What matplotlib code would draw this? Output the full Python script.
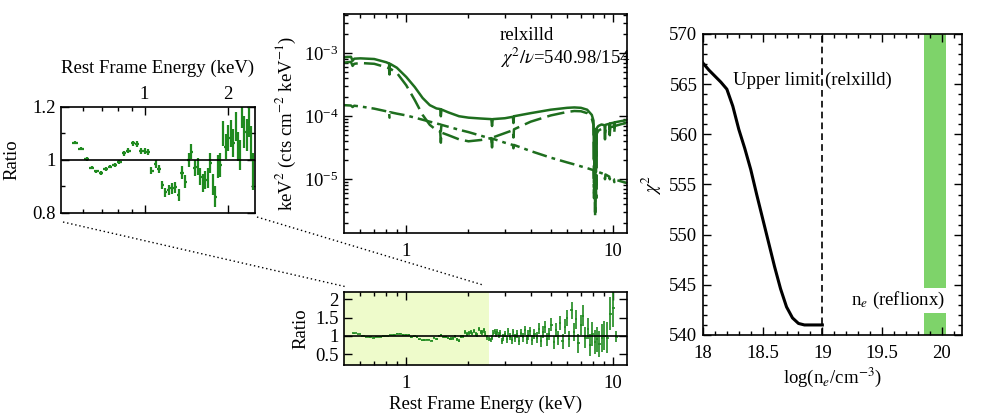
import numpy as np
import matplotlib
matplotlib.use("Agg")
import matplotlib.pyplot as plt
from matplotlib.lines import Line2D
from matplotlib.ticker import FixedLocator, NullFormatter, MultipleLocator

plt.rcParams['font.family'] = ['Liberation Serif', 'DejaVu Serif']
plt.rcParams['mathtext.fontset'] = 'stix'
plt.rcParams['font.size'] = 13.5
plt.rcParams['xtick.direction'] = 'in'
plt.rcParams['ytick.direction'] = 'in'
plt.rcParams['xtick.top'] = True
plt.rcParams['ytick.right'] = True
plt.rcParams['axes.linewidth'] = 1.2
plt.rcParams['xtick.major.pad'] = 7
plt.rcParams['ytick.major.pad'] = 4

DATA_C = '#1f8a1f'
MODEL_C = '#1e6e1e'

# ---- ratio data, 0.5-2.5 keV (inset + bottom panel)
e_lo = [0.561, 0.59, 0.62, 0.644, 0.671, 0.695, 0.725, 0.751, 0.78, 0.811,
        0.843, 0.874, 0.906, 0.936, 0.968, 1.0, 1.031, 1.059, 1.095, 1.129,
        1.157, 1.189, 1.222, 1.256, 1.291, 1.327, 1.365, 1.403, 1.442, 1.474,
        1.515, 1.553, 1.587, 1.622, 1.654, 1.69, 1.724, 1.762, 1.796, 1.837,
        1.873, 1.915, 1.962, 2.005, 2.05, 2.09, 2.13, 2.17, 2.2, 2.245,
        2.29, 2.335, 2.373, 2.41, 2.45]
r_lo = [1.065, 1.043, 1.004, 0.971, 0.957, 0.952, 0.965, 0.975, 0.981, 0.991,
        1.025, 1.035, 1.063, 1.06, 1.034, 1.034, 1.03, 0.96, 0.985, 0.967,
        0.906, 0.878, 0.887, 0.893, 0.897, 0.868, 0.952, 0.918, 1.0, 1.031,
        0.969, 0.975, 0.937, 0.912, 0.925, 0.931, 0.987, 0.906, 0.862, 0.975,
        0.981, 1.10, 1.05, 1.082, 1.10, 1.063, 1.126, 1.05, 1.019, 1.18,
        1.107, 1.094, 1.151, 1.063, 0.956]
err_lo = [0.006, 0.006, 0.006, 0.006, 0.007, 0.007, 0.007, 0.007, 0.008, 0.008,
          0.009, 0.009, 0.01, 0.01, 0.011, 0.011, 0.012, 0.013, 0.014, 0.015,
          0.016, 0.017, 0.018, 0.02, 0.021, 0.022, 0.024, 0.025, 0.027, 0.028,
          0.03, 0.031, 0.032, 0.034, 0.035, 0.037, 0.038, 0.04, 0.041, 0.043,
          0.044, 0.046, 0.047, 0.049, 0.05, 0.052, 0.054, 0.055, 0.057, 0.058,
          0.06, 0.062, 0.064, 0.066, 0.07]

# ---- ratio data, 2.5-10.5 keV
e_hi = [2.52, 2.56, 2.6, 2.64, 2.68, 2.72, 2.76, 2.8, 2.85, 2.9,
        2.95, 3.0, 3.06, 3.12, 3.18, 3.24, 3.3, 3.37, 3.44, 3.51,
        3.58, 3.66, 3.74, 3.82, 3.9, 3.99, 4.08, 4.17, 4.27, 4.37,
        4.47, 4.58, 4.69, 4.8, 4.92, 5.04, 5.16, 5.29, 5.42, 5.56,
        5.7, 5.85, 6.0, 6.15, 6.31, 6.47, 6.64, 6.81, 6.99, 7.17,
        7.36, 7.55, 7.75, 7.95, 8.16, 8.38, 8.6, 8.85, 9.1, 9.4,
        9.7, 10.0, 10.4]
r_hi = [0.92, 0.88, 0.95, 1.08, 1.12, 1.05, 1.1, 1.02, 1.08, 0.86,
        0.95, 1.05, 0.9, 1.12, 0.98, 0.88, 1.1, 0.93, 1.05, 0.85,
        1.08, 0.96, 1.15, 0.9, 1.02, 1.12, 0.88, 1.05, 0.95, 1.2,
        0.85, 1.1, 1.25, 0.9, 1.05, 1.3, 0.82, 1.15, 0.95, 1.35,
        0.85, 1.25, 1.5, 0.9, 1.7, 1.1, 1.45, 0.8, 1.3, 1.55,
        0.95, 1.2, 0.75, 1.05, 0.82, 0.9, 0.78, 0.95, 1.0, 0.95,
        1.6, 1.75, 0.98]
err_hi = [0.06, 0.06, 0.07, 0.07, 0.07, 0.07, 0.08, 0.08, 0.08, 0.08,
          0.09, 0.09, 0.09, 0.1, 0.1, 0.1, 0.1, 0.11, 0.11, 0.11,
          0.12, 0.12, 0.12, 0.13, 0.13, 0.13, 0.14, 0.14, 0.15, 0.15,
          0.15, 0.16, 0.16, 0.17, 0.17, 0.18, 0.18, 0.19, 0.19, 0.2,
          0.2, 0.21, 0.22, 0.22, 0.23, 0.24, 0.25, 0.26, 0.27, 0.28,
          0.29, 0.3, 0.31, 0.32, 0.33, 0.34, 0.36, 0.38, 0.4, 0.42,
          0.45, 0.5, 0.15]

# ---- unfolded model components (keV^2 cts cm^-2 keV^-1)
e_mod = [0.5, 0.54, 0.55, 0.56, 0.6, 0.7, 0.8, 0.825, 0.83, 0.835,
         0.9, 1.0, 1.1, 1.2, 1.3, 1.4, 1.46, 1.47, 1.48, 1.6,
         1.8, 2.0, 2.3, 2.58, 2.6, 2.62, 3.0, 3.28, 3.3, 3.32,
         4.0, 5.0, 6.0, 6.5, 7.0, 7.5, 7.9, 8.05, 8.1, 8.15,
         8.2, 8.25, 8.3, 8.35, 8.5, 8.8, 9.1, 9.15, 9.2, 9.6,
         9.65, 9.7, 10.1, 10.15, 10.2, 11.0, 12.0]
total = [8.6e-4, 8.8e-4, 7.6e-4, 8.2e-4, 8.3e-4, 8.1e-4, 7.2e-4, 6.9e-4, 5.6e-4, 6.8e-4,
         5.9e-4, 4.2e-4, 2.9e-4, 1.95e-4, 1.5e-4, 1.33e-4, 1.3e-4, 1.0e-4, 1.28e-4, 1.15e-4,
         1.0e-4, 9.5e-5, 9.2e-5, 9.0e-5, 7.0e-5, 9.0e-5, 9.3e-5, 9.8e-5, 7.8e-5, 1.0e-4,
         1.12e-4, 1.27e-4, 1.36e-4, 1.38e-4, 1.36e-4, 1.27e-4, 1.05e-4, 8.5e-5, 2.0e-5, 6.0e-5,
         1.7e-5, 6.2e-5, 2.3e-5, 6.5e-5, 7.0e-5, 7.4e-5, 7.2e-5, 5.5e-5, 7.3e-5, 7.6e-5,
         6.0e-5, 7.7e-5, 7.9e-5, 6.5e-5, 8.0e-5, 8.4e-5, 8.8e-5]
refl = [7.1e-4, 7.3e-4, 6.3e-4, 6.8e-4, 7.0e-4, 6.8e-4, 6.0e-4, 5.8e-4, 4.6e-4, 5.7e-4,
        4.9e-4, 3.1e-4, 1.8e-4, 1.05e-4, 7.3e-5, 6.0e-5, 5.7e-5, 3.8e-5, 5.5e-5, 5.0e-5,
        4.3e-5, 4.0e-5, 4.2e-5, 4.5e-5, 3.2e-5, 4.6e-5, 5.4e-5, 6.0e-5, 4.6e-5, 6.2e-5,
        8.2e-5, 1.03e-4, 1.17e-4, 1.21e-4, 1.2e-4, 1.12e-4, 9.2e-5, 7.3e-5, 6.0e-6, 4.5e-5,
        2.5e-6, 4.8e-5, 8.0e-6, 5.3e-5, 5.9e-5, 6.3e-5, 6.1e-5, 4.3e-5, 6.2e-5, 6.6e-5,
        5.0e-5, 6.7e-5, 6.9e-5, 5.5e-5, 7.0e-5, 7.5e-5, 8.0e-5]
powerlaw = [1.5e-4, 1.48e-4, 1.4e-4, 1.47e-4, 1.43e-4, 1.32e-4, 1.2e-4, 1.17e-4, 9.5e-5, 1.16e-4,
            1.1e-4, 1.03e-4, 9.5e-5, 8.8e-5, 8.2e-5, 7.7e-5, 7.4e-5, 5.8e-5, 7.3e-5, 6.8e-5,
            6.1e-5, 5.6e-5, 4.9e-5, 4.4e-5, 3.8e-5, 4.4e-5, 3.8e-5, 3.5e-5, 3.1e-5, 3.5e-5,
            2.8e-5, 2.2e-5, 1.85e-5, 1.72e-5, 1.6e-5, 1.5e-5, 1.42e-5, 1.4e-5, 5.0e-6, 1.2e-5,
            3.0e-6, 1.2e-5, 4.5e-6, 1.3e-5, 1.3e-5, 1.25e-5, 1.2e-5, 1.0e-5, 1.19e-5, 1.1e-5,
            1.0e-5, 1.09e-5, 1.0e-5, 9.0e-6, 9.9e-6, 9.2e-6, 8.5e-6]

# ---- chi^2 vs density scan
log_ne = [18.0, 18.05, 18.1, 18.15, 18.2, 18.25, 18.3, 18.35, 18.4, 18.45,
          18.5, 18.55, 18.6, 18.65, 18.7, 18.75, 18.8, 18.85, 18.9, 18.95, 19.0]
chi2 = [567.1, 566.4, 565.8, 565.2, 564.5, 562.8, 560.5, 558.6, 556.5, 554.0,
        551.6, 549.2, 546.8, 544.6, 542.8, 541.7, 541.15, 541.0, 541.0, 541.0, 541.0]
ne_reflionx = (19.85, 20.04)
upper_limit = 19.0


def bin_halfwidths(e):
    e = np.asarray(e)
    edges = np.sqrt(e[1:] * e[:-1])
    lo = np.concatenate([[e[0] ** 2 / edges[0]], edges])
    hi = np.concatenate([edges, [e[-1] ** 2 / edges[-1]]])
    return np.vstack([e - lo, hi - e])


def style_ticks(ax):
    ax.tick_params(which='major', length=6, width=1)
    ax.tick_params(which='minor', length=3, width=1)


fig = plt.figure(figsize=(9.81, 4.13), dpi=100)

# ---------------- inset (zoom of the soft band)
ax1 = fig.add_axes([0.0622, 0.4843, 0.1978, 0.2567])
ax1.errorbar(e_lo, r_lo, yerr=err_lo, xerr=bin_halfwidths(e_lo), fmt='none',
             ecolor=DATA_C, elinewidth=1.6)
ax1.axhline(1, color='k', lw=1.2)
ax1.set_xscale('log')
ax1.set_xlim(0.5, 2.5)
ax1.set_ylim(0.8, 1.2)
ax1.xaxis.set_major_locator(FixedLocator([1, 2]))
ax1.xaxis.set_minor_locator(FixedLocator([0.6, 0.7, 0.8, 0.9]))
ax1.xaxis.set_minor_formatter(NullFormatter())
ax1.set_xticklabels(['1', '2'])
ax1.tick_params(axis='x', labelbottom=False, labeltop=True, pad=3)
ax1.xaxis.set_label_position('top')
ax1.set_xlabel('Rest Frame Energy (keV)', labelpad=9)
ax1.set_yticks([0.8, 1.0, 1.2])
ax1.set_yticklabels(['0.8', '1', '1.2'])
ax1.yaxis.set_minor_locator(FixedLocator([0.9, 1.1]))
ax1.set_ylabel('Ratio', labelpad=8)
style_ticks(ax1)

# ---------------- unfolded spectrum
ax2 = fig.add_axes([0.3507, 0.4358, 0.2885, 0.5303])
ax2.plot(e_mod, total, color=MODEL_C, lw=1.8, ls='-')
ax2.plot(e_mod, refl, color=MODEL_C, lw=1.8, ls=(0, (7, 2.5)))
ax2.plot(e_mod, powerlaw, color=MODEL_C, lw=1.8, ls=(0, (6, 2, 1.5, 2)))
ax2.set_xscale('log')
ax2.set_yscale('log')
ax2.set_xlim(0.5, 11.7)
ax2.set_ylim(1.4e-6, 4.2e-3)
ax2.xaxis.set_major_locator(FixedLocator([1, 10]))
ax2.set_xticklabels(['1', '10'])
ax2.xaxis.set_minor_locator(FixedLocator([0.6, 0.7, 0.8, 0.9, 2, 3, 4, 5, 6, 7, 8, 9]))
ax2.xaxis.set_minor_formatter(NullFormatter())
ax2.set_ylabel(r'keV$^2$ (cts cm$^{-2}$ keV$^{-1}$)', labelpad=4)
ax2.text(0.55, 0.9, 'relxilld', transform=ax2.transAxes, ha='left', va='center')
ax2.text(0.55, 0.8, r'$\chi^2/\nu$=540.98/154', transform=ax2.transAxes,
         ha='left', va='center')
style_ticks(ax2)

# ---------------- full-band ratio
ax3 = fig.add_axes([0.3507, 0.1162, 0.2885, 0.1768])
ax3.axvspan(0.5, 2.5, color='#eefbcb', lw=0, zorder=0)
ax3.errorbar(e_lo, r_lo, yerr=err_lo, xerr=bin_halfwidths(e_lo), fmt='none',
             ecolor=DATA_C, elinewidth=1.2)
ax3.errorbar(e_hi, r_hi, yerr=err_hi, xerr=bin_halfwidths(e_hi), fmt='none',
             ecolor=DATA_C, elinewidth=1.2)
ax3.axhline(1, color='k', lw=1.2)
ax3.set_xscale('log')
ax3.set_xlim(0.5, 11.7)
ax3.set_ylim(0.2, 2.2)
ax3.xaxis.set_major_locator(FixedLocator([1, 10]))
ax3.set_xticklabels(['1', '10'])
ax3.xaxis.set_minor_locator(FixedLocator([0.6, 0.7, 0.8, 0.9, 2, 3, 4, 5, 6, 7, 8, 9]))
ax3.xaxis.set_minor_formatter(NullFormatter())
ax3.set_yticks([0.5, 1, 1.5, 2])
ax3.set_yticklabels(['0.5', '1', '1.5', '2'])
ax3.set_ylabel('Ratio', labelpad=4)
ax3.set_xlabel('Rest Frame Energy (keV)', labelpad=3)
style_ticks(ax3)

# dotted zoom connectors
fig.add_artist(Line2D([63 / 981, 347 / 981], [1 - 222 / 413, 1 - 287 / 413],
                      transform=fig.transFigure, color='k', lw=1, ls=(0, (1, 2))))
fig.add_artist(Line2D([257 / 981, 483 / 981], [1 - 217 / 413, 1 - 285 / 413],
                      transform=fig.transFigure, color='k', lw=1, ls=(0, (1, 2))))

# ---------------- chi^2 scan
ax4 = fig.add_axes([0.7166, 0.1889, 0.264, 0.7288])
ax4.axvspan(ne_reflionx[0], ne_reflionx[1], color='#7ed36a', lw=0, zorder=0)
ax4.plot(log_ne, chi2, color='k', lw=2.2)
ax4.axvline(upper_limit, color='k', lw=1.2, ls=(0, (4, 2.5)))
ax4.set_xlim(18, 20.17)
ax4.set_ylim(540, 570)
ax4.xaxis.set_minor_locator(MultipleLocator(0.1))
ax4.yaxis.set_major_locator(MultipleLocator(5))
ax4.yaxis.set_minor_locator(MultipleLocator(1))
ax4.set_xticks([18, 18.5, 19, 19.5, 20])
ax4.set_xticklabels(['18', '18.5', '19', '19.5', '20'])
ax4.set_xlabel(r'log(n$_e$/cm$^{-3}$)', labelpad=3)
ax4.set_ylabel(r'$\chi^2$', labelpad=4)
ax4.text(18.25, 565.4, 'Upper limit (relxilld)', ha='left', va='center')
ax4.text(20.03, 543.4, r'n$_e$ (reflionx)', ha='right', va='center',
         bbox=dict(facecolor='white', edgecolor='none', pad=1.5))
style_ticks(ax4)

fig.savefig('out.png', dpi=100)
